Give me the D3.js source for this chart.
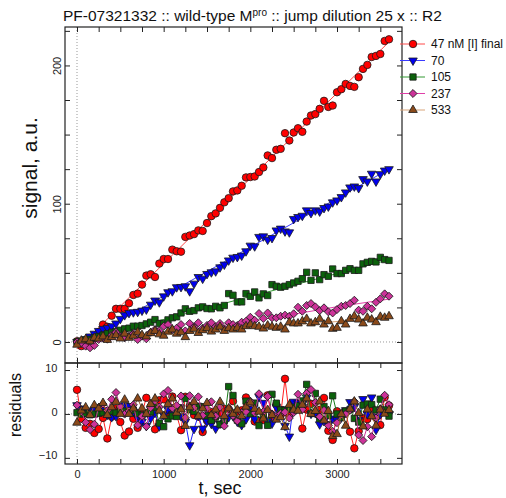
<!DOCTYPE html>
<html>
<head>
<meta charset="utf-8">
<script src="https://cdn.jsdelivr.net/npm/d3@7"></script>
<style>
  body { margin: 0; background: #fff; }
  svg { font-family: "Liberation Sans", Arial, sans-serif; }
</style>
</head>
<body>
<div id="chart"></div>
<script>
// sampling times (sec)
const times = [0,50,100,150,200,250,300,350,400,450,500,550,600,650,700,750,800,850,900,950,
  1000,1050,1100,1150,1200,1250,1300,1350,1400,1450,1500,1550,1600,1650,1700,1750,1800,1850,1900,1950,
  2000,2050,2100,2150,2200,2250,2300,2350,2400,2450,2500,2550,2600,2650,2700,2750,2800,2850,2900,2950,
  3000,3050,3100,3150,3200,3250,3300,3350,3400,3450,3500,3550,3600];

const seriesNames = ["47 nM [I] final", "70", "105", "237", "533"];

// observed signal, a.u.
const sig47 = [0.5,-3,-2,2,3,7,12.6,11,19,24,24,24,28,34,35,41.5,48,49,47,56.7,
  60,60,66.8,65.6,65.3,76,77,78,80.7,80.3,86,91,93,97,101,104,108.9,109.6,113,119,
  119.3,119.7,122.9,126.2,134.9,133,139,139.7,151,145.7,151.5,154.6,152,159.4,163.8,164.8,168.6,174.4,170,171,
  180.6,182.8,186.6,185.2,184.5,191.5,197.5,200.4,206.1,206.9,208.3,217.7,218.9];
const sig70 = [0,1,2,4,6,8,9.5,10.2,11.4,13.4,16.7,19.4,21,21.5,21.8,22.7,23.5,27,30,28.7,
  33,36,36.7,39.6,39.8,40.3,36.7,42.2,47,45.8,49.2,50.4,51.1,54,56,59,61,61.5,62.5,65.6,
  69.7,69.2,76,76.4,74,75.2,80.7,82,80,79.3,89,90.4,91.3,95.2,93.3,95.2,94.4,96.9,98,101,
  102.4,104.8,108.2,111.8,112.5,111.3,117.8,116.1,121.7,116.1,121.4,124,125];
const sig105 = [0,0.5,1.5,2,3,4,5,6,7,7.5,8.5,9.5,10,11.4,11.4,11.9,13.1,14.3,16.2,13.4,
  13.4,16,17.5,18.2,21,24,22.2,22.7,24.7,25.4,24.2,24,25.8,24.7,26.4,35,33.8,29,29,35,
  33,36.2,31.9,34.8,33.6,41.5,40.3,39.6,40.3,41.5,42.7,43.9,45.8,50.4,44.6,50,45.1,48.7,47.5,52.8,
  49.5,49.5,51.8,53,51.8,51.8,56.5,57.6,58.3,57.9,61.2,59.6,59];
const sig237 = [0,-1,-3,-4.2,-2.5,1.8,3,2,5,7,4.2,3,4.2,6,1.8,4.2,2.3,7,9,8,
  11.4,12.6,9,10,12.6,8,13.4,11,13.9,10,12,13.9,11,13.4,9.5,13.9,12.6,11.9,14.3,15,
  17.9,15.7,20.6,17,21,17.5,17.5,18.6,19.4,18.6,20.4,25.1,22.2,26.4,27.8,25.4,22.7,24.7,21.8,21,
  23.5,25.8,26.4,27.8,30.2,23,22.2,25.8,24,28.7,31.2,34.8,33.1];
const sig533 = [-2,1,2,0.5,3,2.5,4,1.5,3.5,5,2.5,6,3,4.5,7,5,4,6.5,8,5.5,
  4.5,7.5,9,6,7,3.5,8,9.5,6.5,8.5,10,7.5,9,11,8,10,9,10.2,9,11.4,
  12.6,11.4,11,9.7,11.9,11,10.2,11,9,14.3,13.4,13.4,15,16.7,13.4,14.3,16.7,12.6,15,9.5,
  10.2,15,12.6,16.7,18.6,16.2,13.4,17.5,16.2,14.3,18.2,17.5,18.6];

// fitted curves, read at these times
const fitTimes = [0,600,1200,1800,2400,3000,3600];
const fit47  = [-5,32,69,106,143,180,217];
const fit70  = [-2,19.2,40.3,61.5,82.7,103.8,125];
const fit105 = [-0.3,9.7,19.6,29.6,39.5,49.5,59.5];
const fit237 = [-2,3.5,8.5,13,19,25.5,31];
const fit533 = [0,3,6,9,12,14.8,17.7];

const xTickLabels = [0,1000,2000,3000];
const yTickLabels = [0,100,200];
const resTickLabels = [-10,0,10];

const signals = [sig47, sig70, sig105, sig237, sig533];
const fits = [fit47, fit70, fit105, fit237, fit533];

const fillColors = ["#ff0000","#0000ee","#0b620b","#cc3399","#8b4a1a"];
const fitColors  = ["#ff4a4a","#3a3aff","#339933","#e040a8","#d9a57a"];
const resColors  = ["#ff2020","#2020ff","#1a7a1a","#cc3399","#a0602a"];
const symTypes = [d3.symbolCircle, d3.symbolTriangle, d3.symbolSquare, d3.symbolSquare, d3.symbolTriangle];
const symSizes = [44, 32, 40, 32, 32];
const symRot = [0, 180, 0, 45, 0];

const W = 506, H = 498;
const L = 65, R = 402, T = 27, MB = 363, RB = 464;

const svg = d3.select("#chart").append("svg")
    .attr("width", W).attr("height", H);

const x = d3.scaleLinear().domain([-138.5, 3750]).range([L, R]);
const y = d3.scaleLinear().domain([-15.2, 227.8]).range([MB, T]);
const yr = d3.scaleLinear().domain([-11.4, 11.6]).range([RB, MB]);

// dotted reference lines
const dot = svg.append("g").attr("stroke", "#999").attr("stroke-dasharray", "1,2").attr("stroke-width", 1);
dot.append("line").attr("x1", x(0)).attr("x2", x(0)).attr("y1", T).attr("y2", RB);
dot.append("line").attr("x1", L).attr("x2", R).attr("y1", y(0)).attr("y2", y(0));
dot.append("line").attr("x1", L).attr("x2", R).attr("y1", yr(0)).attr("y2", yr(0));

function marker(i) {
  return d3.symbol().type(symTypes[i]).size(symSizes[i])();
}

// main panel: fit curves under the data points
const main = svg.append("g");
fits.forEach(function(f, i) {
  main.append("path")
    .datum(fitTimes.map((t, k) => [t, f[k]]))
    .attr("fill", "none")
    .attr("stroke", fitColors[i])
    .attr("stroke-width", 1)
    .attr("d", d3.line().x(d => x(d[0])).y(d => y(d[1])));
});
signals.forEach(function(s, i) {
  main.append("g").selectAll("path")
    .data(times.map((t, k) => [t, s[k]]))
    .join("path")
      .attr("d", marker(i))
      .attr("transform", d => `translate(${x(d[0])},${y(d[1])}) rotate(${symRot[i]})`)
      .attr("fill", fillColors[i])
      .attr("stroke", "#1a1a1a")
      .attr("stroke-width", 0.8);
});

// residual panel: signal minus fitted curve
const resG = svg.append("g");
signals.forEach(function(s, i) {
  const fitAt = d3.scaleLinear().domain(fitTimes).range(fits[i]);
  const res = times.map((t, k) => [t, s[k] - fitAt(t)]);
  const g = resG.append("g");
  g.append("path").datum(res)
    .attr("fill", "none")
    .attr("stroke", resColors[i])
    .attr("stroke-width", 1)
    .attr("d", d3.line().x(d => x(d[0])).y(d => yr(d[1])));
  g.selectAll(".m").data(res).join("path")
    .attr("class", "m")
    .attr("d", marker(i))
    .attr("transform", d => `translate(${x(d[0])},${yr(d[1])}) rotate(${symRot[i]})`)
    .attr("fill", fillColors[i])
    .attr("stroke", "#1a1a1a")
    .attr("stroke-width", 0.8);
});

// axes (ticks pointing inwards)
const minorX = d3.range(0, 3750, 250);
const minorY = d3.range(0, 226, 25);
function axis(gen, tx, ty) {
  const g = svg.append("g")
    .attr("transform", `translate(${tx},${ty})`)
    .style("color", "#222")
    .style("font-size", "11px")
    .style("font-family", "'Liberation Sans', Arial, sans-serif")
    .call(gen);
  g.select(".domain").remove();
  return g;
}
axis(d3.axisTop(x).tickValues(minorX).tickSize(-5).tickFormat(""), 0, T);
axis(d3.axisBottom(x).tickValues(xTickLabels).tickSize(-5).tickFormat(""), 0, MB);
axis(d3.axisTop(x).tickValues(minorX).tickSize(-5).tickFormat(""), 0, MB);
axis(d3.axisBottom(x).tickValues(minorX).tickSize(-5).tickPadding(6)
  .tickFormat(d => xTickLabels.includes(d) ? d : ""), 0, RB);

const yl = axis(d3.axisLeft(y).tickValues(minorY).tickSize(-5)
  .tickFormat(d => yTickLabels.includes(d) ? d : ""), L, 0);
yl.selectAll("text")
  .attr("transform", "rotate(-90)")
  .attr("x", 0).attr("y", -4).attr("dy", 0)
  .attr("text-anchor", "middle");
axis(d3.axisRight(y).tickValues(minorY).tickSize(-5).tickFormat(""), R, 0);

axis(d3.axisLeft(yr).tickValues(resTickLabels).tickSize(-5).tickPadding(7.5), L, 0)
  .selectAll("text").attr("dy", "0.1em");
axis(d3.axisRight(yr).tickValues(resTickLabels).tickSize(-5).tickFormat(""), R, 0);

// frames
svg.append("rect").attr("x", L).attr("y", T).attr("width", R - L).attr("height", MB - T)
  .attr("fill", "none").attr("stroke", "#222").attr("stroke-width", 1.2);
svg.append("rect").attr("x", L).attr("y", MB).attr("width", R - L).attr("height", RB - MB)
  .attr("fill", "none").attr("stroke", "#222").attr("stroke-width", 1.2);

// title
const title = svg.append("text").attr("x", 63).attr("y", 21)
  .attr("font-size", "15.5px").attr("fill", "#111");
title.append("tspan").text("PF-07321332 :: wild-type M");
title.append("tspan").attr("font-size", "10px").attr("dy", -5).text("pro");
title.append("tspan").attr("dy", 5).text(" :: jump dilution 25 x :: R2");

// axis titles
svg.append("text").attr("x", 220).attr("y", 494).attr("text-anchor", "middle")
  .attr("font-size", "18px").attr("fill", "#111").text("t, sec");
svg.append("text").attr("transform", "translate(37,168) rotate(-90)").attr("text-anchor", "middle")
  .attr("font-size", "21px").attr("fill", "#111").text("signal, a.u.");
svg.append("text").attr("transform", "translate(21,405) rotate(-90)").attr("text-anchor", "middle")
  .attr("font-size", "16px").attr("fill", "#111").text("residuals");

// legend
const legend = svg.append("g");
seriesNames.forEach(function(name, i) {
  const ly = 44 + i * 16.5;
  legend.append("line").attr("x1", 400).attr("x2", 425).attr("y1", ly).attr("y2", ly)
    .attr("stroke", fitColors[i]).attr("stroke-width", 1);
  legend.append("path").attr("d", marker(i))
    .attr("transform", `translate(413,${ly}) rotate(${symRot[i]})`)
    .attr("fill", fillColors[i]).attr("stroke", "#1a1a1a").attr("stroke-width", 0.8);
  legend.append("text").attr("x", 431).attr("y", ly).attr("dy", "0.35em")
    .attr("font-size", "12px").attr("fill", "#111").text(name);
});
</script>
</body>
</html>
